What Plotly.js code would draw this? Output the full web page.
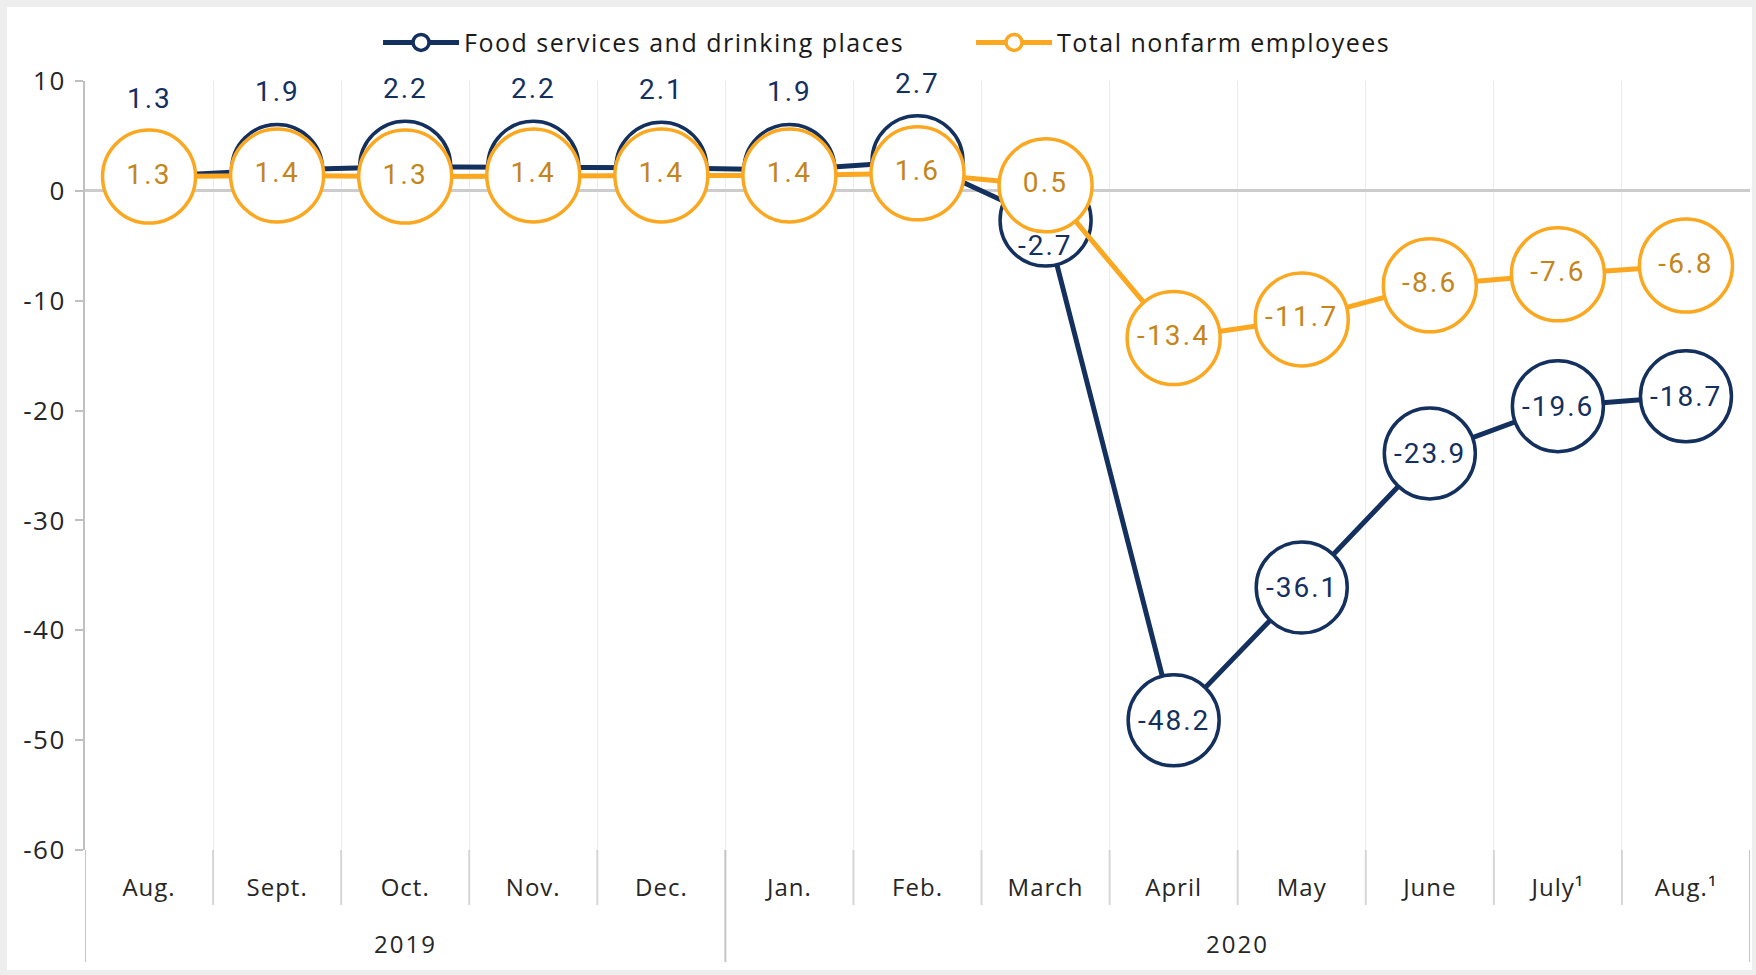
<!DOCTYPE html>
<html><head><meta charset="utf-8">
<script src="https://cdn.plot.ly/plotly-3.0.1.min.js"></script>
<style>
html,body{margin:0;padding:0;background:#eeeeee;width:1756px;height:975px;overflow:hidden}
#chart{position:absolute;left:7px;top:7px;width:1745px;height:963px;background:#fff}
.textpoint text{letter-spacing:2.2px}
text.annotation-text{letter-spacing:2px}
text.legendtext{letter-spacing:1.5px}
.xtick text{letter-spacing:1px}
.ytick text{letter-spacing:1.5px}
</style></head><body><div id="chart"></div>
<script>
const years = ['2019','2019','2019','2019','2019','2020','2020','2020','2020','2020','2020','2020','2020'];
const months = ['Aug.','Sept.','Oct.','Nov.','Dec.','Jan.','Feb.','March','April','May','June','July\u00b9','Aug.\u00b9'];
const foodServices = [1.3,1.9,2.2,2.2,2.1,1.9,2.7,-2.7,-48.2,-36.1,-23.9,-19.6,-18.7];
const totalNonfarm = [1.3,1.4,1.3,1.4,1.4,1.4,1.6,0.5,-13.4,-11.7,-8.6,-7.6,-6.8];
const yTickVals = [10,0,-10,-20,-30,-40,-50,-60];
const seriesNames = ['Food services and drinking places','Total nonfarm employees'];

const NAVY = '#14305e', ORANGE = '#fba71f', ORANGE_TXT = '#c4861b';
const AXFONT = '"Open Sans", Roboto, sans-serif';
const LBLFONT = 'Roboto, "Open Sans", sans-serif';
const fmt = v => v.toFixed(1);

const traceFood = {
  type: 'scatter', mode: 'lines+markers', name: seriesNames[0],
  x: months, y: foodServices,
  line: {color: NAVY, width: 5},
  marker: {size: 91, color: '#ffffff', line: {color: NAVY, width: 3.5}},
  hoverinfo: 'skip'
};
const traceTotal = {
  type: 'scatter', mode: 'lines+markers+text', name: seriesNames[1],
  x: months, y: totalNonfarm,
  text: totalNonfarm.map(fmt), textposition: 'middle center',
  textfont: {family: LBLFONT, size: 28, color: ORANGE_TXT},
  line: {color: ORANGE, width: 5},
  marker: {size: 93, color: '#ffffff', line: {color: ORANGE, width: 3.5}},
  hoverinfo: 'skip'
};

// data labels for the navy series
const annotations = foodServices.map((v, i) => ({
  x: i, y: v, xref: 'x', yref: 'y', text: fmt(v), showarrow: false,
  yshift: i < 7 ? 78 : (i === 7 ? -25 : 0),
  font: {family: LBLFONT, size: 28, color: NAVY}
}));

// year groups: labels and dividers derived from the years array
const groups = [];
years.forEach((yr, i) => {
  if (!groups.length || groups[groups.length - 1].name !== yr) groups.push({name: yr, start: i, end: i});
  else groups[groups.length - 1].end = i;
});
const shapes = [];
groups.forEach(g => {
  annotations.push({x: (g.start + g.end) / 2, xref: 'x', y: -0.121, yref: 'paper', yanchor: 'middle',
    text: g.name, showarrow: false, font: {family: AXFONT, size: 24, color: '#262626'}});
});
const dividerPos = groups.map(g => g.start - 0.5).concat([groups[groups.length - 1].end + 0.5]);
dividerPos.forEach(p => shapes.push({type: 'line', xref: 'x', yref: 'paper', x0: p, x1: p, y0: 0, y1: -0.1456,
  line: {color: '#c4c4c4', width: 2}}));
for (let i = 1; i < months.length; i++) {
  if (dividerPos.indexOf(i - 0.5) >= 0) continue;
  shapes.push({type: 'line', xref: 'x', yref: 'paper', x0: i - 0.5, x1: i - 0.5, y0: 0, y1: -0.0715,
    line: {color: '#d6d6d6', width: 2}});
}

const layout = {
  width: 1745, height: 963,
  margin: {l: 78, r: 2, t: 74, b: 120},
  paper_bgcolor: '#ffffff', plot_bgcolor: '#ffffff',
  font: {family: AXFONT, size: 24, color: '#262626'},
  showlegend: true,
  legend: {orientation: 'h', x: 0.176, xanchor: 'left', yref: 'container', y: 0.963, yanchor: 'middle',
    font: {family: AXFONT, size: 25, color: '#1a1a1a'}, traceorder: 'normal', itemwidth: 76,
    entrywidth: 502, entrywidthmode: 'pixels'},
  xaxis: {
    type: 'category', range: [-0.5, months.length - 0.5], tickson: 'boundaries',
    showgrid: true, gridcolor: '#ebebeb', gridwidth: 1,
    showline: false, ticks: '', ticklabelstandoff: 21,
    tickfont: {family: AXFONT, size: 24, color: '#262626'}, zeroline: false, fixedrange: true
  },
  yaxis: {
    range: [-60, 10], tickvals: yTickVals, ticktext: yTickVals.map(String),
    showgrid: false, zeroline: true, zerolinecolor: '#cccccc', zerolinewidth: 3,
    showline: true, linecolor: '#c0c0c0', linewidth: 2,
    ticks: 'outside', ticklen: 8, tickcolor: '#c0c0c0', tickwidth: 2, ticklabelstandoff: 4,
    tickfont: {family: AXFONT, size: 26, color: '#262626'}, fixedrange: true
  },
  annotations: annotations,
  shapes: shapes
};

Plotly.newPlot('chart', [traceFood, traceTotal], layout, {displayModeBar: false, staticPlot: true});
</script></body></html>
